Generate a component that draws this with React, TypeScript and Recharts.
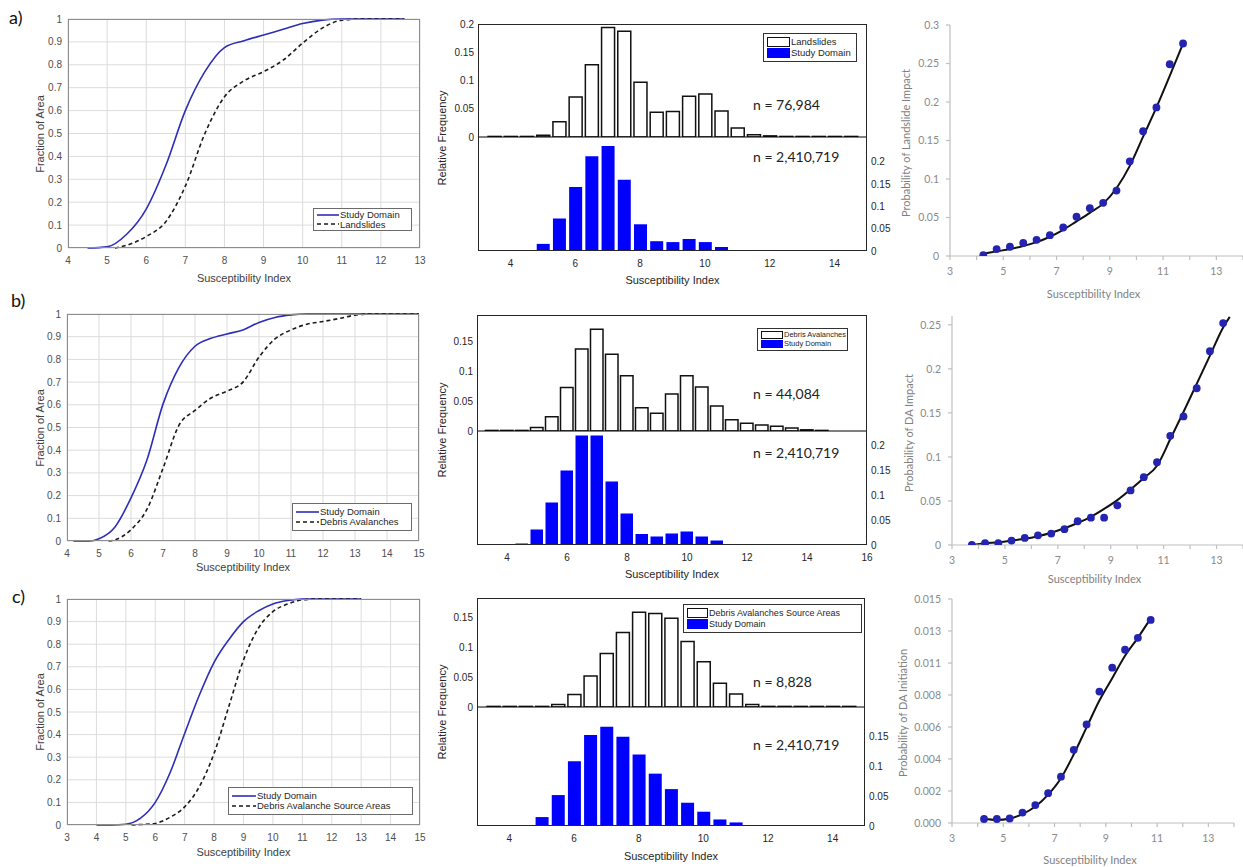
import React from "react";
import {
  LineChart,
  Line,
  XAxis,
  YAxis,
  CartesianGrid,
  BarChart,
  Bar,
  ComposedChart,
  Scatter,
  ZAxis,
} from "recharts";

const MAT = "'Liberation Sans', Arial, sans-serif";
const XL = "Lato, 'Open Sans', sans-serif";
const STUDY_LINE = "#2d2db8";
const BLUE = "#0000ff";
const DOT = "#2424b0";

// ---------------- CDF data ----------------
const cdfStudyAx = [4.5, 5, 5.5, 6, 6.5, 7, 7.5, 8, 8.5, 9, 9.5, 10, 10.5, 11, 11.5, 12, 12.6];
const cdfStudyAy = [0, 0.005, 0.06, 0.17, 0.36, 0.6, 0.77, 0.875, 0.905, 0.93, 0.955, 0.98, 0.995, 1, 1, 1, 1];
const cdfLandAx = [5.2, 5.5, 6, 6.5, 7, 7.5, 8, 8.5, 9, 9.5, 10, 10.5, 11, 11.5, 12, 12.6];
const cdfLandAy = [0, 0.012, 0.05, 0.115, 0.27, 0.5, 0.66, 0.73, 0.77, 0.82, 0.895, 0.96, 0.995, 1, 1, 1];

const cdfStudyBx = [4.2, 4.7, 5, 5.5, 6, 6.5, 7, 7.5, 8, 8.5, 9, 9.5, 10, 10.5, 11, 11.5, 12, 13, 14, 15];
const cdfStudyBy = [0, 0, 0.01, 0.062, 0.19, 0.358, 0.603, 0.765, 0.858, 0.893, 0.912, 0.93, 0.963, 0.985, 0.996, 1, 1, 1, 1, 1];
const cdfDebrisBx = [5.3, 5.5, 6, 6.5, 7, 7.5, 8, 8.5, 9, 9.5, 10, 10.5, 11, 11.5, 12, 12.5, 13, 13.5, 14, 15];
const cdfDebrisBy = [0, 0.005, 0.05, 0.14, 0.32, 0.51, 0.575, 0.63, 0.66, 0.7, 0.81, 0.89, 0.93, 0.955, 0.967, 0.98, 0.995, 1, 1, 1];

const cdfStudyCx = [4, 4.5, 5, 5.5, 6, 6.5, 7, 7.5, 8, 8.5, 9, 9.5, 10, 10.5, 11, 11.5, 12, 13];
const cdfStudyCy = [0, 0, 0.003, 0.03, 0.1, 0.23, 0.405, 0.575, 0.72, 0.82, 0.9, 0.947, 0.978, 0.993, 1, 1, 1, 1];
const cdfSourceCx = [5.2, 5.5, 6, 6.5, 7, 7.5, 8, 8.5, 9, 9.5, 10, 10.5, 11, 11.5, 12, 13];
const cdfSourceCy = [0, 0.002, 0.007, 0.034, 0.08, 0.17, 0.317, 0.524, 0.73, 0.87, 0.944, 0.978, 0.996, 1, 1, 1];

const cdfYTicks = [0, 0.1, 0.2, 0.3, 0.4, 0.5, 0.6, 0.7, 0.8, 0.9, 1];
const cdfXTicksA = [4, 5, 6, 7, 8, 9, 10, 11, 12, 13];
const cdfXTicksB = [4, 5, 6, 7, 8, 9, 10, 11, 12, 13, 14, 15];
const cdfXTicksC = [3, 4, 5, 6, 7, 8, 9, 10, 11, 12, 13, 14, 15];

// ---------------- Histogram data ----------------
const histBins = [3.5, 4, 4.5, 5, 5.5, 6, 6.5, 7, 7.5, 8, 8.5, 9, 9.5, 10, 10.5, 11, 11.5, 12, 12.5, 13, 13.5, 14, 14.5];
const landslidesFreq = [0.001, 0.001, 0.001, 0.003, 0.027, 0.071, 0.128, 0.194, 0.187, 0.097, 0.044, 0.045, 0.072, 0.076, 0.046, 0.016, 0.004, 0.002, 0.001, 0.001, 0.001, 0.001, 0.001];
const studyFreqA = [0, 0, 0, 0.016, 0.073, 0.144, 0.213, 0.236, 0.16, 0.06, 0.022, 0.02, 0.027, 0.02, 0.009, 0.002, 0, 0, 0, 0, 0, 0, 0];
const debrisFreq = [0.001, 0.001, 0.001, 0.006, 0.024, 0.073, 0.138, 0.171, 0.129, 0.093, 0.039, 0.03, 0.062, 0.093, 0.074, 0.042, 0.019, 0.013, 0.01, 0.008, 0.005, 0.002, 0.001];
const studyFreqB = [0, 0, 0.003, 0.031, 0.085, 0.149, 0.219, 0.219, 0.127, 0.063, 0.022, 0.017, 0.023, 0.027, 0.017, 0.009, 0.002, 0.001, 0, 0, 0, 0, 0];
const sourceFreq = [0.001, 0.001, 0.001, 0.001, 0.004, 0.021, 0.052, 0.09, 0.125, 0.159, 0.157, 0.149, 0.11, 0.076, 0.04, 0.022, 0.004, 0.001, 0.001, 0.001, 0.001, 0.001, 0.001];
const studyFreqC = [0, 0, 0.001, 0.015, 0.052, 0.109, 0.153, 0.167, 0.15, 0.12, 0.088, 0.062, 0.039, 0.024, 0.011, 0.006, 0.001, 0, 0, 0, 0, 0, 0];

const histXTicks15 = [4, 6, 8, 10, 12, 14];
const histXTicks16 = [4, 6, 8, 10, 12, 14, 16];
const histYTicks20 = [0, 0.05, 0.1, 0.15, 0.2];
const histYTicks15 = [0, 0.05, 0.1, 0.15];

// ---------------- Probability data ----------------
const probXA = [4.25, 4.75, 5.25, 5.75, 6.25, 6.75, 7.25, 7.75, 8.25, 8.75, 9.25, 9.75, 10.25, 10.75, 11.25, 11.75];
const probPointsA = [0.001, 0.009, 0.012, 0.017, 0.021, 0.027, 0.037, 0.051, 0.062, 0.069, 0.085, 0.123, 0.162, 0.193, 0.249, 0.276];
const probFitA = [0.003, 0.006, 0.009, 0.013, 0.018, 0.025, 0.034, 0.045, 0.056, 0.068, 0.088, 0.117, 0.155, 0.193, 0.234, 0.276];

const probXB = [3.75, 4.25, 4.75, 5.25, 5.75, 6.25, 6.75, 7.25, 7.75, 8.25, 8.75, 9.25, 9.75, 10.25, 10.75, 11.25, 11.75, 12.25, 12.75, 13.25];
const probPointsB = [0, 0.002, 0.002, 0.005, 0.008, 0.011, 0.013, 0.018, 0.027, 0.031, 0.031, 0.045, 0.062, 0.077, 0.094, 0.124, 0.146, 0.178, 0.22, 0.252];
const probFitXB = [3.75, 4.25, 4.75, 5.25, 5.75, 6.25, 6.75, 7.25, 7.75, 8.25, 8.75, 9.25, 9.75, 10.25, 10.75, 11.25, 11.75, 12.25, 12.75, 13.25, 13.5];
const probFitB = [0, 0.002, 0.003, 0.005, 0.007, 0.01, 0.014, 0.019, 0.025, 0.032, 0.041, 0.051, 0.063, 0.076, 0.09, 0.12, 0.151, 0.183, 0.215, 0.247, 0.259];

const probXC = [4.25, 4.75, 5.25, 5.75, 6.25, 6.75, 7.25, 7.75, 8.25, 8.75, 9.25, 9.75, 10.25, 10.75];
const probPointsC = [0.00027, 0.00027, 0.0003, 0.0007, 0.0012, 0.002, 0.0031, 0.0049, 0.0066, 0.0088, 0.0104, 0.0116, 0.0124, 0.0136];
const probFitC = [0.0003, 0.0002, 0.0003, 0.0006, 0.0011, 0.0019, 0.003, 0.0046, 0.0064, 0.0082, 0.0097, 0.0112, 0.0124, 0.0137];

const probXTicks = [3, 4, 5, 6, 7, 8, 9, 10, 11, 12, 13, 14];
const probYTicksA = [0, 0.05, 0.1, 0.15, 0.2, 0.25, 0.3];
const probYTicksB = [0, 0.05, 0.1, 0.15, 0.2, 0.25];
const probYTicksC = [0, 0.00214, 0.00429, 0.00643, 0.00857, 0.01071, 0.01286, 0.015];
const probYLabelsC = ["0.000", "0.002", "0.004", "0.006", "0.008", "0.011", "0.013", "0.015"];

type Pt = { x: number; y: number };
type Rect = { x: number; y: number; w: number; h: number };
const zip = (xs: number[], ys: number[]): Pt[] => xs.map((x, i) => ({ x, y: ys[i] }));

function Txt(p: {
  x: number;
  y: number;
  children: React.ReactNode;
  size?: number;
  color?: string;
  family?: string;
  rotate?: boolean;
  anchor?: "start" | "middle";
}) {
  const tx = p.anchor === "start" ? "0" : "-50%";
  return (
    <div
      style={{
        position: "absolute",
        left: p.x,
        top: p.y,
        transform: `translate(${tx},-50%)${p.rotate ? " rotate(-90deg)" : ""}`,
        fontSize: p.size ?? 11,
        color: p.color ?? "#333",
        fontFamily: p.family ?? MAT,
        whiteSpace: "nowrap",
        lineHeight: 1,
      }}
    >
      {p.children}
    </div>
  );
}

function Box({ r, color, width = 1 }: { r: Rect; color: string; width?: number }) {
  return (
    <div
      style={{
        position: "absolute",
        left: r.x,
        top: r.y,
        width: r.w,
        height: r.h,
        border: `${width}px solid ${color}`,
        boxSizing: "border-box",
        pointerEvents: "none",
      }}
    />
  );
}

// ---------------- CDF panel ----------------
function CdfPanel(p: {
  rect: Rect;
  xDomain: [number, number];
  xTicks: number[];
  study: Pt[];
  other: Pt[];
  otherName: string;
  legend: Rect;
  lineW: number;
  xTitleY: number;
}) {
  const { rect } = p;
  const L = 60, R = 14, T = 10, B = 24;
  const tickStyle = { fontSize: 10, fill: "#4d4d4d", fontFamily: MAT };
  return (
    <>
      <div style={{ position: "absolute", left: rect.x - L, top: rect.y - T }}>
        <LineChart width={rect.w + L + R} height={rect.h + T + B} margin={{ top: T, right: R, left: 0, bottom: 0 }}>
          <CartesianGrid stroke="#dcdcdc" horizontalValues={cdfYTicks} verticalValues={p.xTicks} />
          <XAxis
            type="number"
            dataKey="x"
            domain={p.xDomain}
            ticks={p.xTicks}
            interval={0}
            allowDataOverflow
            height={B}
            axisLine={false}
            tickLine={false}
            tickSize={4}
            tickMargin={5}
            tick={tickStyle}
          />
          <YAxis
            type="number"
            domain={[0, 1]}
            ticks={cdfYTicks}
            interval={0}
            width={L}
            axisLine={false}
            tickLine={false}
            tickSize={3}
            tickMargin={3}
            tick={tickStyle}
          />
          <Line data={p.study} dataKey="y" type="monotone" stroke={STUDY_LINE} strokeWidth={1.6} dot={false} isAnimationActive={false} />
          <Line data={p.other} dataKey="y" type="monotone" stroke="#1a1a1a" strokeWidth={1.6} strokeDasharray="4 3" dot={false} isAnimationActive={false} />
        </LineChart>
      </div>
      <Box r={rect} color="#8c8c8c" />
      <div
        style={{
          position: "absolute",
          left: p.legend.x,
          top: p.legend.y,
          width: p.legend.w,
          height: p.legend.h,
          border: "1px solid #6b6b6b",
          background: "#fff",
          boxSizing: "border-box",
          display: "flex",
          flexDirection: "column",
          justifyContent: "center",
          paddingLeft: 3,
          fontFamily: MAT,
          fontSize: 9.5,
          color: "#262626",
          lineHeight: 1.05,
        }}
      >
        <div style={{ display: "flex", alignItems: "center" }}>
          <svg width={p.lineW} height={6}>
            <line x1={0} y1={3} x2={p.lineW} y2={3} stroke={STUDY_LINE} strokeWidth={1.6} />
          </svg>
          <span style={{ marginLeft: 1 }}>Study Domain</span>
        </div>
        <div style={{ display: "flex", alignItems: "center" }}>
          <svg width={p.lineW} height={6}>
            <line x1={0} y1={3} x2={p.lineW} y2={3} stroke="#1a1a1a" strokeWidth={1.6} strokeDasharray="4 3" />
          </svg>
          <span style={{ marginLeft: 1 }}>{p.otherName}</span>
        </div>
      </div>
      <Txt x={rect.x + rect.w / 2} y={p.xTitleY} color="#404040">
        Susceptibility Index
      </Txt>
      <Txt x={40} y={rect.y + rect.h / 2} rotate color="#404040">
        Fraction of Area
      </Txt>
    </>
  );
}

// ---------------- Histogram panel ----------------
function HistPanel(p: {
  x0: number;
  x1: number;
  top: number;
  mid: number;
  bottom: number;
  xDomain: [number, number];
  xTicks: number[];
  upper: Pt[];
  lower: Pt[];
  upDomain: [number, number];
  upTicks: number[];
  loDomain: [number, number];
  loTicks: number[];
  upperName: string;
  legend: Rect;
  legendFont: number;
  swatch: [number, number];
  nUp: string;
  nLo: string;
  nUpY: number;
  nLoY: number;
  xTitleY: number;
  barSize: number;
}) {
  const w = p.x1 - p.x0;
  const L = 40, R = 40, T = 8, B = 36, UB = 8;
  const tickStyle = { fontSize: 10, fill: "#262626", fontFamily: MAT };
  return (
    <>
      <div style={{ position: "absolute", left: p.x0 - L, top: p.top - T }}>
        <BarChart width={w + L + R} height={p.mid - p.top + T + UB} data={p.upper} margin={{ top: T, right: R, left: 0, bottom: 0 }}>
          <XAxis type="number" dataKey="x" domain={p.xDomain} ticks={p.xTicks} allowDataOverflow height={UB} tick={false} tickLine={false} axisLine={{ stroke: "#000", strokeWidth: 1 }} />
          <YAxis
            type="number"
            domain={p.upDomain}
            ticks={p.upTicks}
            interval={0}
            allowDataOverflow
            width={L}
            axisLine={false}
            tickLine={false}
            tickSize={2}
            tickMargin={2}
            tick={tickStyle}
          />
          <Bar dataKey="y" fill="#ffffff" stroke="#111" strokeWidth={1.5} barSize={p.barSize} isAnimationActive={false} />
        </BarChart>
      </div>
      <div style={{ position: "absolute", left: p.x0 - L, top: p.mid }}>
        <BarChart width={w + L + R} height={p.bottom - p.mid + B} data={p.lower} margin={{ top: 0, right: 0, left: L, bottom: 0 }}>
          <XAxis
            type="number"
            dataKey="x"
            domain={p.xDomain}
            ticks={p.xTicks}
            interval={0}
            allowDataOverflow
            height={B}
            axisLine={false}
            tickLine={false}
            tickSize={4}
            tickMargin={5}
            tick={tickStyle}
          />
          <YAxis
            orientation="right"
            type="number"
            domain={p.loDomain}
            ticks={p.loTicks}
            interval={0}
            allowDataOverflow
            width={R}
            axisLine={false}
            tickLine={false}
            tickSize={2}
            tickMargin={2}
            tick={tickStyle}
          />
          <Bar dataKey="y" fill={BLUE} barSize={p.barSize} isAnimationActive={false} />
        </BarChart>
      </div>
      <Box r={{ x: p.x0, y: p.top, w, h: p.bottom - p.top }} color="#262626" />
      <div
        style={{
          position: "absolute",
          left: p.legend.x,
          top: p.legend.y,
          width: p.legend.w,
          height: p.legend.h,
          border: "1px solid #333",
          background: "#fff",
          boxSizing: "border-box",
          display: "flex",
          flexDirection: "column",
          justifyContent: "center",
          paddingLeft: 3,
          gap: 1,
          fontFamily: MAT,
          fontSize: p.legendFont,
          color: "#262626",
          lineHeight: 1,
        }}
      >
        <div style={{ display: "flex", alignItems: "center" }}>
          <div style={{ width: p.swatch[0], height: p.swatch[1], border: "1.5px solid #111", background: "#fff", boxSizing: "border-box" }} />
          <span style={{ marginLeft: 1 }}>{p.upperName}</span>
        </div>
        <div style={{ display: "flex", alignItems: "center" }}>
          <div style={{ width: p.swatch[0], height: p.swatch[1], background: BLUE }} />
          <span style={{ marginLeft: 1 }}>Study Domain</span>
        </div>
      </div>
      <Txt x={753} y={p.nUpY} anchor="start" size={14} family={XL} color="#222">
        {p.nUp}
      </Txt>
      <Txt x={753} y={p.nLoY} anchor="start" size={14} family={XL} color="#222">
        {p.nLo}
      </Txt>
      <Txt x={(p.x0 + p.x1) / 2} y={p.xTitleY} color="#262626">
        Susceptibility Index
      </Txt>
      <Txt x={442} y={(p.top + p.bottom) / 2} rotate color="#262626">
        Relative Frequency
      </Txt>
    </>
  );
}

// ---------------- Probability panel ----------------
function ProbPanel(p: {
  rect: Rect;
  yDomain: [number, number];
  yTicks: number[];
  yFormat: (v: number, i: number) => string;
  points: Pt[];
  fit: Pt[];
  yTitle: string;
  yTitleX: number;
  xTitleY: number;
}) {
  const { rect } = p;
  const L = 60, R = 2, T = 8, B = 30;
  const tickStyle = { fontSize: 10.5, fill: "#8a8a8a", fontFamily: XL };
  const axis = { stroke: "#bfbfbf", strokeWidth: 1.2 };
  return (
    <>
      <div style={{ position: "absolute", left: rect.x - L, top: rect.y - T }}>
        <ComposedChart width={rect.w + L + R} height={rect.h + T + B} margin={{ top: T, right: R, left: 0, bottom: 0 }}>
          <XAxis
            type="number"
            dataKey="x"
            domain={[3, 14]}
            ticks={probXTicks}
            interval={0}
            allowDataOverflow
            height={B}
            axisLine={axis}
            tickLine={axis}
            tickSize={4}
            tickMargin={8}
            tick={tickStyle}
            tickFormatter={(v: number) => (v % 2 === 1 && v <= 13 ? String(v) : "")}
          />
          <YAxis
            type="number"
            dataKey="y"
            domain={p.yDomain}
            ticks={p.yTicks}
            interval={0}
            allowDataOverflow
            width={L}
            axisLine={axis}
            tickLine={axis}
            tickSize={4}
            tickMargin={7}
            tick={tickStyle}
            tickFormatter={p.yFormat}
          />
          <ZAxis range={[48, 48]} />
          <Scatter data={p.points} dataKey="y" fill={DOT} isAnimationActive={false} />
          <Line data={p.fit} dataKey="y" type="monotone" stroke="#111" strokeWidth={2} dot={false} isAnimationActive={false} />
        </ComposedChart>
      </div>
      <Txt x={rect.x + rect.w / 2 - 3} y={p.xTitleY} family={XL} color="#7f7f7f">
        Susceptibility Index
      </Txt>
      <Txt x={p.yTitleX} y={rect.y + rect.h / 2 + 2} rotate family={XL} color="#7f7f7f">
        {p.yTitle}
      </Txt>
    </>
  );
}

const fmtPlain = (v: number) => String(v);
const fmtC = (_v: number, i: number) => probYLabelsC[i] ?? "";

export default function App() {
  return (
    <div style={{ position: "absolute", left: 0, top: 0, width: 1243, height: 867, background: "#fff", overflow: "hidden" }}>
      <Txt x={9} y={17} anchor="start" size={18} family={XL} color="#111">a)</Txt>
      <Txt x={11} y={300} anchor="start" size={18} family={XL} color="#111">b)</Txt>
      <Txt x={12} y={596} anchor="start" size={18} family={XL} color="#111">c)</Txt>

      {/* Row a */}
      <CdfPanel
        rect={{ x: 68, y: 19, w: 352, h: 229 }}
        xDomain={[4, 13]}
        xTicks={cdfXTicksA}
        study={zip(cdfStudyAx, cdfStudyAy)}
        other={zip(cdfLandAx, cdfLandAy)}
        otherName="Landslides"
        legend={{ x: 313, y: 208, w: 99, h: 23 }}
        lineW={22}
        xTitleY={278}
      />
      <HistPanel
        x0={478}
        x1={867}
        top={24}
        mid={137}
        bottom={251}
        xDomain={[3, 15]}
        xTicks={histXTicks15}
        upper={zip(histBins, landslidesFreq)}
        lower={zip(histBins, studyFreqA)}
        upDomain={[0, 0.2]}
        upTicks={histYTicks20}
        loDomain={[0, 0.256]}
        loTicks={histYTicks20}
        upperName="Landslides"
        legend={{ x: 763, y: 33, w: 94, h: 29 }}
        legendFont={9.5}
        swatch={[23, 10]}
        nUp="n = 76,984"
        nLo="n = 2,410,719"
        nUpY={105}
        nLoY={157}
        xTitleY={280}
        barSize={13}
      />
      <ProbPanel
        rect={{ x: 950, y: 25, w: 293, h: 231 }}
        yDomain={[0, 0.3]}
        yTicks={probYTicksA}
        yFormat={fmtPlain}
        points={zip(probXA, probPointsA)}
        fit={zip(probXA, probFitA)}
        yTitle="Probability of Landslide Impact"
        yTitleX={905}
        xTitleY={293}
      />

      {/* Row b */}
      <CdfPanel
        rect={{ x: 67, y: 314, w: 352, h: 227 }}
        xDomain={[4, 15]}
        xTicks={cdfXTicksB}
        study={zip(cdfStudyBx, cdfStudyBy)}
        other={zip(cdfDebrisBx, cdfDebrisBy)}
        otherName="Debris Avalanches"
        legend={{ x: 292, y: 503, w: 120, h: 28 }}
        lineW={23}
        xTitleY={567}
      />
      <HistPanel
        x0={477}
        x1={867}
        top={315}
        mid={431}
        bottom={545}
        xDomain={[3, 16]}
        xTicks={histXTicks16}
        upper={zip(histBins, debrisFreq)}
        lower={zip(histBins, studyFreqB)}
        upDomain={[0, 0.195]}
        upTicks={histYTicks15}
        loDomain={[0, 0.228]}
        loTicks={histYTicks20}
        upperName="Debris Avalanches"
        legend={{ x: 757, y: 328, w: 91, h: 23 }}
        legendFont={7.5}
        swatch={[22, 8]}
        nUp="n = 44,084"
        nLo="n = 2,410,719"
        nUpY={394}
        nLoY={453}
        xTitleY={574}
        barSize={12.5}
      />
      <ProbPanel
        rect={{ x: 952, y: 316, w: 291, h: 229 }}
        yDomain={[0, 0.26]}
        yTicks={probYTicksB}
        yFormat={fmtPlain}
        points={zip(probXB, probPointsB)}
        fit={zip(probFitXB, probFitB)}
        yTitle="Probability of DA Impact"
        yTitleX={908}
        xTitleY={578}
      />

      {/* Row c */}
      <CdfPanel
        rect={{ x: 67, y: 599, w: 353, h: 226 }}
        xDomain={[3, 15]}
        xTicks={cdfXTicksC}
        study={zip(cdfStudyCx, cdfStudyCy)}
        other={zip(cdfSourceCx, cdfSourceCy)}
        otherName="Debris Avalanche Source Areas"
        legend={{ x: 228, y: 787, w: 185, h: 28 }}
        lineW={24}
        xTitleY={852}
      />
      <HistPanel
        x0={477}
        x1={865}
        top={598}
        mid={707}
        bottom={826}
        xDomain={[3, 15]}
        xTicks={histXTicks15}
        upper={zip(histBins, sourceFreq)}
        lower={zip(histBins, studyFreqC)}
        upDomain={[0, 0.183]}
        upTicks={histYTicks15}
        loDomain={[0, 0.2]}
        loTicks={histYTicks15}
        upperName="Debris Avalanches Source Areas"
        legend={{ x: 683, y: 604, w: 179, h: 29 }}
        legendFont={9}
        swatch={[21, 10]}
        nUp="n = 8,828"
        nLo="n = 2,410,719"
        nUpY={682}
        nLoY={745}
        xTitleY={856}
        barSize={13}
      />
      <ProbPanel
        rect={{ x: 952, y: 599, w: 282, h: 224 }}
        yDomain={[0, 0.015]}
        yTicks={probYTicksC}
        yFormat={fmtC}
        points={zip(probXC, probPointsC)}
        fit={zip(probXC, probFitC)}
        yTitle="Probability of DA Initiation"
        yTitleX={902}
        xTitleY={859}
      />
    </div>
  );
}
